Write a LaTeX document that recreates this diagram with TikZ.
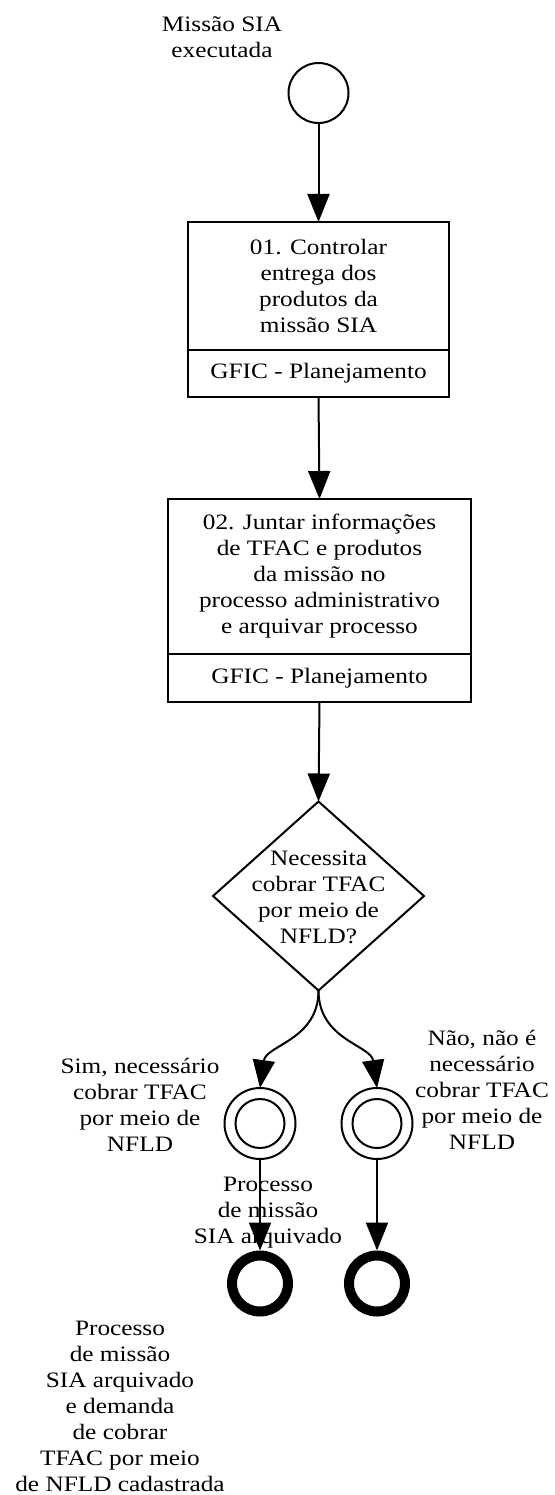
\documentclass[tikz,border=0pt]{standalone}
\usepackage{fontspec}
\newfontfamily\lblfont{Liberation Serif}[FakeStretch=1.15]
\usetikzlibrary{arrows.meta,shapes.geometric}
\begin{document}
\begin{tikzpicture}[x=1pt,y=-1pt,
  txt/.style={align=center, inner sep=0pt, font={\lblfont\fontsize{22}{26}\selectfont}},
  ln/.style={line width=2pt},
  flow/.style={ln, -{Triangle[length=28pt,width=22pt]}},
  startev/.style={draw, ln, circle, minimum size=60pt, inner sep=0pt, outer sep=0pt},
  midev/.style={draw, ln, circle, minimum size=71pt, inner sep=0pt, outer sep=0pt},
  endev/.style={draw, line width=10pt, circle, minimum size=56pt, inner sep=0pt, outer sep=5pt},
  taskbox/.style={draw, ln, rectangle, inner sep=0pt, outer sep=0pt},
  gatebox/.style={draw, ln, diamond, inner sep=0pt, outer sep=0pt, minimum width=211pt, minimum height=189pt}
]
\useasboundingbox[fill=white] (0,0) rectangle (554,1495);

% start event
\node[startev] (s) at (318.5,93) {};
\node[txt] (slbl) at (222,37) {Missão SIA\\executada};

% task 1
\node[taskbox, minimum width=261pt, minimum height=175pt] (t1) at (318.5,309.5) {};
\draw[ln] ([yshift=-128pt]t1.north west) coordinate (t1a) -- ([yshift=-128pt]t1.north east) coordinate (t1b);
\node[txt] (t1txt) at (318.5,286) {01. Controlar\\entrega dos\\produtos da\\missão SIA};
\node[txt] (t1lane) at (318.5,373.5) {GFIC - Planejamento};

% task 2
\node[taskbox, minimum width=303pt, minimum height=203pt] (t2) at (319.5,600.5) {};
\draw[ln] ([yshift=-155pt]t2.north west) coordinate (t2a) -- ([yshift=-155pt]t2.north east) coordinate (t2b);
\node[txt] (t2txt) at (319.5,576.5) {02. Juntar informações\\de TFAC e produtos\\da missão no\\processo administrativo\\e arquivar processo};
\node[txt] (t2lane) at (319.5,678) {GFIC - Planejamento};

% gateway
\node[gatebox] (g) at (318.5,896) {};
\node[txt] (gtxt) at (318.5,897) {Necessita\\cobrar TFAC\\por meio de\\NFLD?};

% intermediate events
\node[midev] (e1) at (260,1123.5) {};
\draw[ln] (e1.center) circle (24.5pt);
\node[midev] (e2) at (377,1123.5) {};
\draw[ln] (e2.center) circle (24.5pt);
\node[txt] (e1lbl) at (140,1105) {Sim, necessário\\cobrar TFAC\\por meio de\\NFLD};
\node[txt] (e2lbl) at (482,1090) {Não, não é\\necessário\\cobrar TFAC\\por meio de\\NFLD};

% end events
\node[endev] (x1) at (260,1283.5) {};
\node[endev] (x2) at (377,1283.5) {};
\node[txt] (x2lbl) at (268,1213) {Processo\\de missão\\SIA arquivado};
\node[txt] (x1lbl) at (120,1406) {Processo\\de missão\\SIA arquivado\\e demanda\\de cobrar\\TFAC por meio\\de NFLD cadastrada};

% connectors
\draw[flow] (s.south) -- (t1.north);
\draw[flow] (t1.south) -- (t2.north);
\draw[flow] (t2.south) -- (g.north);
\draw[flow] (g.south) .. controls (318.5,1040) and (266,1045) .. (e1.north);
\draw[flow] (g.south) .. controls (318.5,1040) and (371,1045) .. (e2.north);
\draw[flow] (e1.south) -- (x1.north);
\draw[flow] (e2.south) -- (x2.north);
\end{tikzpicture}
\end{document}
